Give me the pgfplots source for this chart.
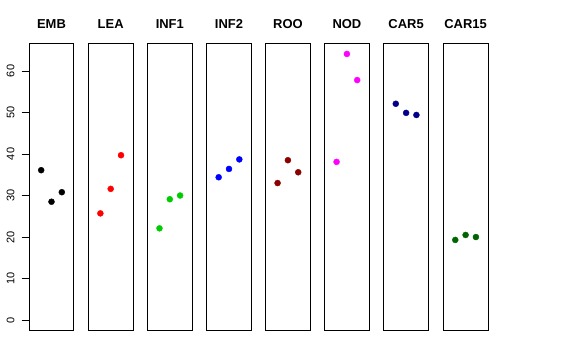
\documentclass[border=0pt]{standalone}
\usepackage{pgfplots}
\pgfplotsset{compat=1.18}
\usepackage{fontspec}
\setmainfont{Liberation Sans}
\definecolor{rgreen}{RGB}{0,205,0}
\definecolor{rdarkred}{RGB}{139,0,0}
\definecolor{rmagenta}{RGB}{255,0,255}
\definecolor{rdarkblue}{RGB}{0,0,139}
\definecolor{rdarkgreen}{RGB}{0,100,0}
\pgfplotsset{
  panel/.style={scale only axis, width=44.6bp, height=287.4bp,
    anchor=south west,
    xmin=-0.16, xmax=4.16, ymin=-2.56, ymax=66.66,
    xtick=\empty, ytick=\empty,
    axis line style={line width=0.7bp, black},
    title={#1},
    title style={at={(0.5,1)}, anchor=base, yshift=9.3bp, inner sep=0pt,
      font=\bfseries\fontsize{13}{15}\selectfont}},
  pt/.style={only marks, mark=*, mark size=3bp, color=#1, mark options={draw=#1, fill=#1}}
}
\begin{document}
\begin{tikzpicture}
\path[use as bounding box] (0,0) rectangle (576bp,360bp);
\begin{axis}[panel=EMB, at={(29.2bp,29.3bp)},
  ytick={0,10,...,60}, ytick pos=left, tick align=outside,
  major tick length=7.5bp, every tick/.style={black, line width=0.7bp},
  yticklabel style={rotate=90, anchor=south, inner sep=0pt, font=\fontsize{11}{13}\selectfont},
  /pgf/number format/assume math mode=true,
  yticklabel shift=7bp]
\addplot[pt=black] coordinates {(1,36.1) (2,28.5) (3,30.8)};
\end{axis}
\begin{axis}[panel=LEA, at={(88.4bp,29.3bp)}]
\addplot[pt=red] coordinates {(1,25.7) (2,31.6) (3,39.7)};
\end{axis}
\begin{axis}[panel=INF1, at={(147.5bp,29.3bp)}]
\addplot[pt=rgreen] coordinates {(1,22.1) (2,29.1) (3,30.0)};
\end{axis}
\begin{axis}[panel=INF2, at={(206.7bp,29.3bp)}]
\addplot[pt=blue] coordinates {(1,34.4) (2,36.4) (3,38.7)};
\end{axis}
\begin{axis}[panel=ROO, at={(265.6bp,29.3bp)}]
\addplot[pt=rdarkred] coordinates {(1,33.0) (2,38.5) (3,35.6)};
\end{axis}
\begin{axis}[panel=NOD, at={(324.6bp,29.3bp)}]
\addplot[pt=rmagenta] coordinates {(1,38.1) (2,64.1) (3,57.8)};
\end{axis}
\begin{axis}[panel=CAR5, at={(383.8bp,29.3bp)}]
\addplot[pt=rdarkblue] coordinates {(1,52.1) (2,49.9) (3,49.4)};
\end{axis}
\begin{axis}[panel=CAR15, at={(443.3bp,29.3bp)}]
\addplot[pt=rdarkgreen] coordinates {(1,19.3) (2,20.5) (3,20.0)};
\end{axis}
\end{tikzpicture}
\end{document}
